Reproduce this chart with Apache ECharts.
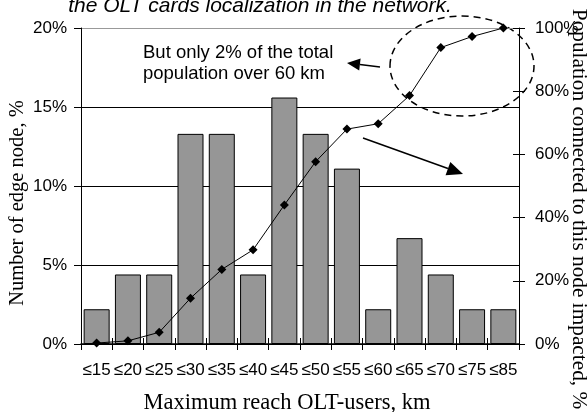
<!DOCTYPE html>
<html>
<head>
<meta charset="utf-8">
<script src="https://cdn.jsdelivr.net/npm/echarts@6/dist/echarts.min.js"></script>
<style>html,body{margin:0;padding:0;background:#fff}#c{width:588px;height:412px}</style>
</head>
<body>
<div id="c"></div>
<script>
var categories = ['≤15','≤20','≤25','≤30','≤35','≤40','≤45','≤50','≤55','≤60','≤65','≤70','≤75','≤85'];
var edgeNodePct = [2.2,4.4,4.4,13.3,13.3,4.4,15.6,13.3,11.1,2.2,6.7,4.4,2.2,2.2];
var populationPct = [0.3,1.0,3.7,14.5,23.6,29.8,44.0,57.7,68.0,69.7,78.6,93.8,97.3,100];
var leftTicks = {min:0, max:20, interval:5};
var rightTicks = {min:0, max:100, interval:20};

var SANS = 'Liberation Sans, Arial, sans-serif';
var SERIF = 'Liberation Serif, Times New Roman, serif';

function arrow(x1,y1,x2,y2,len,half){
  var dx=x2-x1, dy=y2-y1, d=Math.sqrt(dx*dx+dy*dy), ux=dx/d, uy=dy/d;
  var bx=x2-ux*len, by=y2-uy*len;
  return [
    {type:'line', shape:{x1:x1,y1:y1,x2:bx,y2:by}, style:{stroke:'#000',lineWidth:1.5}},
    {type:'polygon', shape:{points:[[x2,y2],[bx-uy*half,by+ux*half],[bx+uy*half,by-ux*half]]}, style:{fill:'#000'}}
  ];
}

var chart = echarts.init(document.getElementById('c'), null, {renderer:'canvas'});
var graphics = [
  {type:'text', x:260, y:17, style:{text:'the OLT cards localization in the network.', fontSize:21, fontStyle:'italic', fontFamily:SANS, fill:'#000', align:'center', verticalAlign:'bottom'}},
  {type:'text', x:143, y:63, style:{text:'But only 2% of the total\npopulation over 60 km', fontSize:18.5, lineHeight:21, fontFamily:SANS, fill:'#000', align:'left', verticalAlign:'middle'}},
  {type:'ellipse', shape:{cx:462, cy:66, rx:72, ry:50}, style:{fill:'none', stroke:'#000', lineWidth:1.5, lineDash:[7,5]}},
  {type:'text', x:18, y:203, rotation:Math.PI/2, style:{text:'Number of edge node, %', fontSize:20.5, fontFamily:SERIF, fill:'#000', align:'center', verticalAlign:'middle'}},
  {type:'text', x:579, y:209, rotation:-Math.PI/2, style:{text:'Population connected to this node impacted, %', fontSize:21.3, fontFamily:SERIF, fill:'#000', align:'center', verticalAlign:'middle'}},
  {type:'text', x:287, y:403, style:{text:'Maximum reach OLT-users, km', fontSize:22.5, fontFamily:SERIF, fill:'#000', align:'center', verticalAlign:'middle'}}
].concat(arrow(380,67,347,63,13,6)).concat(arrow(363,138,463,174,16,7));

chart.setOption({
  animation:false,
  backgroundColor:'#fff',
  grid:{left:81, right:69, top:28, bottom:68},
  xAxis:[{
    type:'category', data:categories, position:'bottom',
    axisLine:{lineStyle:{color:'#000', width:1.5}},
    axisTick:{show:true, alignWithLabel:false, length:6, lineStyle:{color:'#000'}},
    axisLabel:{color:'#000', fontSize:17, fontFamily:SANS, margin:18, interval:0},
    splitLine:{show:false}
  },{
    type:'category', data:categories, position:'bottom',
    axisLine:{show:false},
    axisTick:{show:true, inside:true, length:6, lineStyle:{color:'#000'}},
    axisLabel:{show:false}, splitLine:{show:false}
  }],
  yAxis:[{
    type:'value', min:leftTicks.min, max:leftTicks.max, interval:leftTicks.interval, position:'left',
    axisLine:{show:true, lineStyle:{color:'#000', width:1}},
    axisTick:{show:true, length:7, lineStyle:{color:'#000'}},
    axisLabel:{color:'#000', fontSize:17, fontFamily:SANS, margin:14, formatter:'{value}%'},
    splitLine:{show:true, lineStyle:{color:['#000','#000','#000','#000','#999'], width:1}}
  },{
    type:'value', min:rightTicks.min, max:rightTicks.max, interval:rightTicks.interval, position:'right',
    axisLine:{show:true, lineStyle:{color:'#000', width:1}},
    axisTick:{show:true, length:6, lineStyle:{color:'#000'}},
    axisLabel:{color:'#000', fontSize:17, fontFamily:SANS, margin:16, formatter:'{value}%'},
    splitLine:{show:false}
  },{
    type:'value', min:rightTicks.min, max:rightTicks.max, interval:rightTicks.interval, position:'right',
    axisLine:{show:false},
    axisTick:{show:true, inside:true, length:6, lineStyle:{color:'#000'}},
    axisLabel:{show:false}, splitLine:{show:false}
  }],
  series:[{
    type:'bar', data:edgeNodePct, xAxisIndex:0, yAxisIndex:0, barWidth:26,
    itemStyle:{color:'#969696', borderColor:'#000', borderWidth:1}
  },{
    type:'line', data:populationPct, xAxisIndex:0, yAxisIndex:1,
    symbol:'diamond', symbolSize:9, showSymbol:true,
    lineStyle:{color:'#000', width:1}, itemStyle:{color:'#000'}
  }],
  graphic:graphics
});
</script>
</body>
</html>
